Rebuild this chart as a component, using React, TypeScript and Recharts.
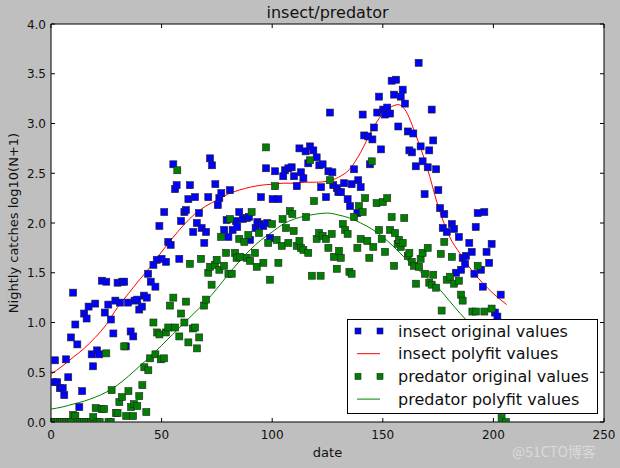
import {
  CartesianGrid,
  ComposedChart,
  Legend,
  Line,
  ReferenceArea,
  Scatter,
  XAxis,
  YAxis,
} from "recharts";

const FONT = "'DejaVu Sans', sans-serif";

const X_TICKS = [0, 50, 100, 150, 200, 250];
const Y_TICKS = [0, 0.5, 1, 1.5, 2, 2.5, 3, 3.5, 4];

// [date, log10(N+1)]
const insectOriginal: [number, number][] = [
  [1, 0.4], [1.8, 0.62], [2.8, 0.4], [4, 0.34], [5.3, 0.34], [6, 0.27], [6.8, 0.63], [7.8, 0.45],
  [9, 0.85], [10, 1.3], [11, 0.98], [11.9, 0.78], [12.8, 0.15], [14.1, 0.31], [15, 1.09], [16.1, 1.04],
  [17, 1.16], [18.4, 0.68], [19, 0.56], [20, 1.19], [20.8, 0.72], [21.8, 0.68], [23, 1.42], [24.3, 1.1],
  [25, 1.41], [25.9, 1.18], [27.1, 1.03], [28.2, 0.89], [29.1, 1.22], [30.1, 1.4], [31.2, 1.2], [32.2, 1.41],
  [33.1, 1.41], [33.8, 0.76], [34.8, 1.2], [36, 0.91], [37.2, 0.86], [37.8, 1.22], [39, 1.23], [39.9, 1.13],
  [41.1, 1.16], [42, 1.27], [43.3, 1.25], [43.9, 1.49], [45.1, 1.41], [46.3, 1.58], [47.2, 1.36], [47.8, 1.63],
  [49, 1.97], [50, 1.64], [51.2, 2.11], [52, 1.61], [53, 1.81], [54.1, 1.78], [55.3, 2.59], [56.1, 2.34],
  [56.8, 2.38], [58, 1.64], [58.8, 2.02], [60.3, 2.11], [61, 2.13], [62.1, 2.24], [62.8, 2.38], [64.3, 1.91],
  [65.1, 2.26], [65.9, 2.0], [66.9, 2.1], [68.1, 1.95], [69.3, 1.8], [70.1, 1.91], [71.1, 2.26], [71.9, 2.65],
  [72.8, 2.58], [74.3, 2.39], [75.4, 2.18], [76.1, 2.25], [77, 2.3], [78.3, 1.93], [79.4, 2.03], [80.2, 1.86],
  [80.9, 2.33], [82.1, 1.93], [83.6, 2.02], [84.2, 1.96], [85.1, 2.11], [86.7, 2.04], [88.5, 2.05], [89.5, 2.06],
  [90, 1.83], [92.5, 1.95], [93.3, 2.01], [94.5, 1.99], [94.9, 2.26], [96, 1.97], [97.2, 2.55], [97.8, 2.0],
  [99, 1.85], [100.2, 2.24], [101.3, 2.52], [102.8, 2.24], [105, 2.47], [105.8, 2.53], [107.3, 2.55], [108.8, 2.56],
  [109.9, 2.47], [111.1, 2.37], [112.3, 2.75], [113, 2.51], [114.1, 2.45], [115.1, 2.72], [116.3, 2.6], [117.1, 2.77],
  [118.6, 2.73], [120.1, 2.66], [121.3, 2.58], [122.1, 2.36], [122.8, 2.59], [124.3, 2.26], [125.4, 2.52], [126.1, 3.11],
  [127.2, 2.51], [127.6, 2.38], [129.2, 2.35], [129.9, 2.31], [131.1, 2.31], [132.5, 2.4], [134.1, 2.24], [135.2, 2.17],
  [135.9, 2.39], [137, 2.54], [138.5, 2.1], [138.9, 2.43], [140, 2.36], [140.9, 3.09], [141.6, 2.88], [143.4, 2.87],
  [144.2, 2.59], [145.3, 2.84], [146, 2.96], [147.5, 3.11], [148.3, 3.27], [149.2, 2.74], [150.2, 3.14], [151, 3.09],
  [152, 3.16], [153.3, 3.1], [154, 3.43], [155.1, 3.29], [156, 3.44], [157, 2.97], [158.1, 3.27], [159, 3.34],
  [160, 3.2], [161.3, 2.92], [162, 2.73], [163.2, 2.71], [163.8, 2.9], [164.9, 2.57], [166.2, 3.61], [167.1, 2.77],
  [168, 2.62], [168.9, 2.29], [170.3, 2.56], [171, 2.73], [172.1, 3.14], [172.8, 2.83], [174.1, 2.54], [175.1, 2.33],
  [175.9, 2.15], [177.1, 1.95], [177.8, 2.09], [178.9, 1.91], [181.2, 1.99], [182.2, 1.94], [183.1, 1.5], [184.4, 1.86],
  [185.4, 1.53], [186.1, 1.65], [187.2, 1.59], [187.6, 1.67], [189.1, 1.8], [190.2, 1.71], [191.4, 1.49], [192, 1.96],
  [192.9, 2.1], [194.4, 1.53], [195.2, 1.36], [195.9, 2.11], [196.9, 1.71], [198.1, 1.6], [199.2, 1.79], [200.7, 1.1],
  [201.8, 1.06], [203.3, 1.28],
];

const insectFit: [number, number][] = [
  [0, 0.48], [5, 0.56], [10, 0.65], [15, 0.74], [20, 0.85], [25, 0.98], [30, 1.15], [35, 1.29],
  [40, 1.43], [45, 1.56], [50, 1.71], [55, 1.85], [60, 1.98], [65, 2.09], [70, 2.17], [75, 2.23],
  [80, 2.29], [85, 2.33], [90, 2.36], [95, 2.38], [100, 2.39], [105, 2.4], [110, 2.4], [115, 2.41],
  [120, 2.41], [125, 2.42], [130, 2.46], [135, 2.54], [140, 2.71], [145, 2.93], [150, 3.1], [155, 3.18],
  [157, 3.19], [160, 3.14], [165, 2.88], [170, 2.56], [175, 2.17], [180, 1.87], [185, 1.69], [190, 1.53],
  [195, 1.4], [200, 1.29], [206, 1.18],
];

const predatorOriginal: [number, number][] = [
  [0, 0], [1, 0], [2, 0], [3, 0], [4, 0], [5, 0], [6, 0], [7, 0], [8, 0], [9, 0], [10, 0.07], [11, 0.06],
  [12, 0], [13, 0], [14, 0], [15, 0], [16, 0], [17, 0], [18, 0], [19.1, 0.05], [20.2, 0.14], [21, 0],
  [22, 0], [22.9, 0.13], [24, 0.13], [25, 0.69], [26, 0], [27, 0], [27.4, 0.32], [29.4, 0.09], [30.1, 0.09],
  [30.9, 0.2], [32.1, 0.25], [33.1, 0.76], [34, 0.06], [35, 0.31], [36.2, 0.15], [37.1, 0.06], [37.5, 0.18],
  [39, 0.16], [39.9, 0.26], [41.3, 0.37], [42.2, 0.55], [43.1, 0.1], [44, 0.52], [44.8, 0.64], [46.3, 1.0],
  [47.2, 0.68], [48, 0.9], [49, 0.88], [49.7, 0.63], [51.1, 0.64], [51.9, 0.9], [53, 0.95], [53.8, 1.17],
  [55.3, 1.25], [56.1, 0.95], [57.1, 2.53], [58, 0.86], [58.8, 1.09], [60.3, 1.0], [61, 1.21], [62.1, 0.8],
  [62.8, 1.59], [64.1, 0.94], [65.1, 0.95], [66, 0.74], [67, 0.85], [67.8, 1.64], [69.2, 1.17], [70.1, 1.23],
  [71.1, 1.5], [71.9, 1.56], [72.6, 1.38], [74.1, 1.58], [74.9, 1.63], [76.1, 1.53], [76.9, 1.86], [78.2, 1.57],
  [79.1, 1.7], [80.2, 1.49], [80.9, 2.04], [81.7, 1.49], [83.2, 1.7], [83.9, 1.65], [85.1, 1.84], [85.4, 1.66],
  [87.4, 1.81], [88.5, 1.65], [89.2, 1.88], [90, 1.62], [90.7, 2.11], [92.2, 1.7], [93, 1.56], [94, 1.9],
  [96, 1.6], [97.2, 2.76], [98.2, 1.8], [99, 1.43], [99.9, 1.99], [101.3, 2.37], [102, 1.83], [102.8, 1.6],
  [104.3, 1.77], [104.7, 2.04], [106.2, 1.95], [107.3, 1.8], [108, 2.12], [109.1, 2.09], [109.7, 1.92], [111.1, 1.77],
  [112.3, 1.82], [113, 1.75], [114.1, 1.73], [115.3, 2.06], [116.3, 1.7], [117.1, 2.63], [117.9, 1.47], [118.9, 2.22],
  [120.1, 1.84], [121.2, 1.9], [121.9, 1.47], [122.8, 1.87], [124.3, 1.84], [125.4, 1.75], [126.1, 2.43], [126.9, 1.89],
  [127.9, 1.66], [129.2, 1.54], [130.2, 1.72], [131, 1.65], [131.9, 1.99], [133, 1.93], [134.1, 1.89], [134.9, 1.51],
  [135.9, 1.49], [137, 2.06], [138.5, 1.75], [139.2, 2.17], [140, 1.84], [140.9, 2.11], [142, 2.25], [143, 1.82],
  [143.9, 1.65], [145, 2.62], [145.7, 1.76], [147.2, 2.2], [148.3, 1.93], [149.5, 1.84], [150, 2.21], [151, 1.71],
  [152, 2.25], [153.3, 1.93], [154, 2.06], [155.1, 1.57], [155.5, 1.9], [156.7, 1.79], [157.3, 1.83], [158.1, 1.76],
  [159, 1.8], [159.7, 2.05], [161.3, 1.67], [162, 1.7], [163.1, 1.61], [164.1, 1.57], [165, 1.39], [166.4, 1.56],
  [167.1, 1.64], [168, 1.7], [169.1, 1.49], [170.3, 1.75], [171, 1.4], [172.1, 1.38], [172.8, 1.48], [174.1, 1.35],
  [176.2, 1.69], [176.6, 1.12], [177.8, 1.81], [178.9, 1.43], [180.4, 1.46], [181.2, 1.66], [182.2, 1.39], [184.4, 1.42],
  [185.4, 1.28], [186.1, 1.22], [190.5, 1.11], [192.1, 1.11], [192.9, 1.57], [195.9, 1.11], [199.2, 1.14], [203.7, 0.04],
  [205.7, 0],
];

const predatorFit: [number, number][] = [
  [0, 0.13], [5, 0.15], [10, 0.18], [15, 0.21], [20, 0.25], [25, 0.3], [30, 0.37], [35, 0.46],
  [40, 0.56], [45, 0.66], [50, 0.77], [55, 0.88], [60, 0.99], [65, 1.1], [70, 1.21], [75, 1.34],
  [80, 1.48], [85, 1.61], [90, 1.73], [95, 1.83], [100, 1.91], [105, 1.99], [110, 2.04], [115, 2.07],
  [120, 2.09], [125, 2.1], [130, 2.08], [135, 2.05], [140, 2.0], [145, 1.94], [150, 1.86], [155, 1.76],
  [160, 1.65], [165, 1.55], [170, 1.45], [175, 1.35], [180, 1.22], [185, 1.09], [190, 0.97], [195, 0.84],
  [200, 0.71], [206, 0.55],
];

const LEGEND_ITEMS = [
  { label: "insect original values", color: "#0000ff", kind: "marker" },
  { label: "insect polyfit values", color: "#ff0000", kind: "line" },
  { label: "predator original values", color: "#008000", kind: "marker" },
  { label: "predator polyfit values", color: "#008000", kind: "line" },
];

const toXY = (rows: [number, number][]) => rows.map(([x, y]) => ({ x, y }));

// layout
const W = 620;
const H = 468;
const PLOT_TOP = 24;
const PLOT_RIGHT = 604;
const Y_AXIS_W = 51;
const X_AXIS_H = 46;

const squareShape = (color: string) => (props: any) => {
  const { cx, cy, payload } = props;
  if (cx == null || cy == null) return <g />;
  // markers sitting on y=0 are clipped by the axes box like in matplotlib
  const h = payload && payload.y === 0 ? 3.5 : 7;
  return (
    <rect x={cx - 3.5} y={cy - 3.5} width={7} height={h} fill={color} stroke="#222" strokeWidth={0.6} />
  );
};

function XTick(props: any) {
  const { x, y, payload } = props;
  return (
    <g>
      <line x1={x} x2={x} y1={y} y2={y - 4} stroke="#000" />
      <line x1={x} x2={x} y1={PLOT_TOP} y2={PLOT_TOP + 4} stroke="#000" />
      <text x={x} y={y + 17} textAnchor="middle" fontSize={12} fontFamily={FONT} fill="#111">
        {payload.value}
      </text>
    </g>
  );
}

function YTick(props: any) {
  const { x, y, payload } = props;
  return (
    <g>
      <line x1={x} x2={x + 4} y1={y} y2={y} stroke="#000" />
      <line x1={PLOT_RIGHT} x2={PLOT_RIGHT - 4} y1={y} y2={y} stroke="#000" />
      <text x={x - 5} y={y + 4.5} textAnchor="end" fontSize={12} fontFamily={FONT} fill="#111">
        {Number(payload.value).toFixed(1)}
      </text>
    </g>
  );
}

function LegendBox() {
  return (
    <div
      style={{
        width: 251,
        height: 95,
        boxSizing: "border-box",
        border: "1px solid #000",
        background: "#fff",
      }}
    >
      <svg width={249} height={93}>
        {LEGEND_ITEMS.map((item, i) => {
          const cy = 11 + i * 22.7;
          return (
            <g key={item.label}>
              {item.kind === "marker" ? (
                <>
                  <rect x={7} y={cy - 3} width={6} height={6} fill={item.color} stroke="#222" strokeWidth={0.6} />
                  <rect x={29} y={cy - 3} width={6} height={6} fill={item.color} stroke="#222" strokeWidth={0.6} />
                </>
              ) : (
                <line x1={9} x2={32} y1={cy} y2={cy} stroke={item.color} strokeWidth={1} />
              )}
              <text x={50} y={cy + 5.5} fontSize={16} fontFamily={FONT} fill="#111">
                {item.label}
              </text>
            </g>
          );
        })}
      </svg>
    </div>
  );
}

export default function App() {
  return (
    <div
      style={{
        position: "absolute",
        left: 0,
        top: 0,
        width: W,
        height: H,
        background: "#bfbfbf",
        fontFamily: FONT,
      }}
    >
      <div
        style={{
          position: "absolute",
          left: Y_AXIS_W,
          width: PLOT_RIGHT - Y_AXIS_W,
          top: 3,
          textAlign: "center",
          fontSize: 16,
          lineHeight: "20px",
          color: "#111",
        }}
      >
        insect/predator
      </div>
      <ComposedChart
        width={W}
        height={H}
        margin={{ top: PLOT_TOP, right: W - PLOT_RIGHT, bottom: 0, left: 0 }}
      >
        <CartesianGrid horizontal={false} vertical={false} fill="#fff" />
        <XAxis
          type="number"
          dataKey="x"
          domain={[0, 250]}
          ticks={X_TICKS}
          allowDataOverflow
          height={X_AXIS_H}
          axisLine={false}
          tickLine={false}
          tickSize={0}
          tickMargin={0}
          tick={<XTick />}
          label={(p: any) => {
            const vb = p.viewBox;
            return (
              <text x={vb.x + vb.width / 2} y={vb.y + 35} textAnchor="middle" fontSize={13} fontFamily={FONT} fill="#111">
                date
              </text>
            );
          }}
        />
        <YAxis
          type="number"
          dataKey="y"
          domain={[0, 4]}
          ticks={Y_TICKS}
          allowDataOverflow
          width={Y_AXIS_W}
          axisLine={false}
          tickLine={false}
          tickSize={0}
          tickMargin={0}
          tick={<YTick />}
          label={(p: any) => {
            const vb = p.viewBox;
            const cx = 13;
            const cy = vb.y + vb.height / 2;
            return (
              <text
                x={cx}
                y={cy}
                transform={`rotate(-90 ${cx} ${cy})`}
                textAnchor="middle"
                dominantBaseline="central"
                fontSize={13}
                fontFamily={FONT}
                fill="#111"
              >
                Nightly catches log10(N+1)
              </text>
            );
          }}
        />
        <Scatter
          name="insect original values"
          data={toXY(insectOriginal)}
          shape={squareShape("#0000ff")}
          isAnimationActive={false}
        />
        <Line
          name="insect polyfit values"
          data={toXY(insectFit)}
          dataKey="y"
          type="monotone"
          stroke="#ff0000"
          strokeWidth={1}
          dot={false}
          activeDot={false}
          isAnimationActive={false}
        />
        <Scatter
          name="predator original values"
          data={toXY(predatorOriginal)}
          shape={squareShape("#008000")}
          isAnimationActive={false}
        />
        <Line
          name="predator polyfit values"
          data={toXY(predatorFit)}
          dataKey="y"
          type="monotone"
          stroke="#008000"
          strokeWidth={1}
          dot={false}
          activeDot={false}
          isAnimationActive={false}
        />
        <ReferenceArea x1={0} x2={250} y1={0} y2={4} fill="none" stroke="#000" strokeWidth={1} />
        <Legend
          layout="vertical"
          align="center"
          verticalAlign="middle"
          wrapperStyle={{ left: 347, top: 319, width: 251, height: 95 }}
          content={() => <LegendBox />}
        />
      </ComposedChart>
      <div
        style={{
          position: "absolute",
          left: 512,
          top: 442,
          fontSize: 14,
          lineHeight: "18px",
          color: "#dadada",
          fontFamily: "'Noto Sans CJK SC', 'DejaVu Sans', sans-serif",
        }}
      >
        @51CTO博客
      </div>
    </div>
  );
}
